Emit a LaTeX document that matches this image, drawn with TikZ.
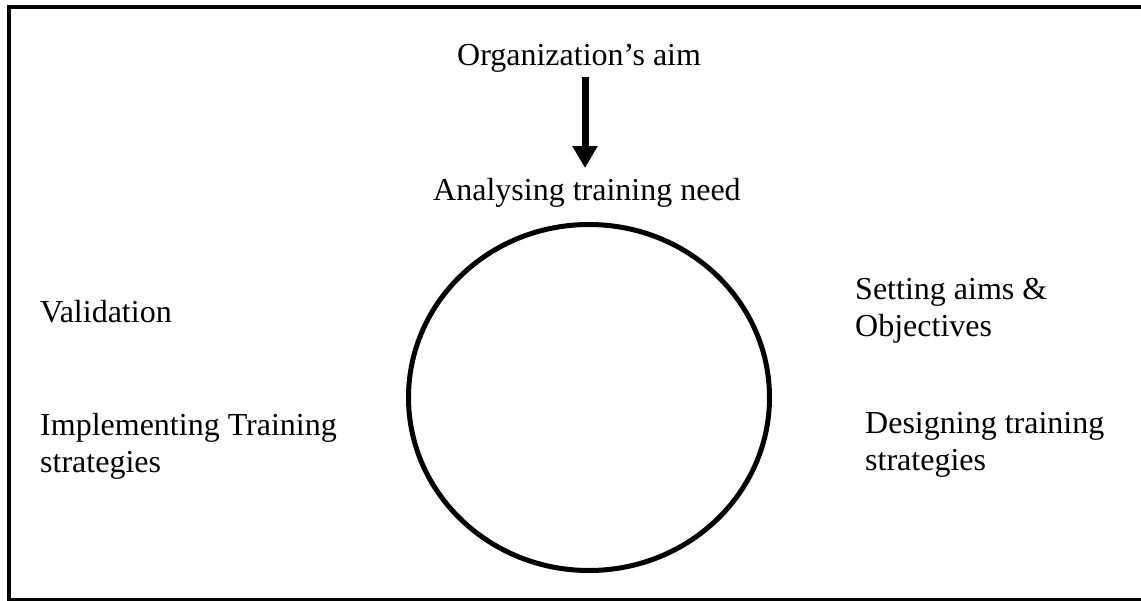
\documentclass[tikz,border=0pt]{standalone}
\usepackage{fontspec}
\setmainfont{Liberation Serif}
\usetikzlibrary{arrows.meta}
\begin{document}
\begin{tikzpicture}[x=1pt,y=-1pt,
  lbl/.style={anchor=base west,inner sep=0pt,align=left,font=\fontsize{32}{36.5}\selectfont},
  bigarrow/.style={line width=7pt,-{Triangle[width=24pt,length=22pt]}},
  ring/.style={line width=5pt}]
\useasboundingbox (0,0) rectangle (1141,600);
\fill[white] (0,0) rectangle (1141,600);
\draw[line width=4pt] (8.8,7) rectangle (1160,600);
\node[lbl] (org) at (457,65) {Organization’s aim};
\node[lbl] (ana) at (433,200) {Analysing training need};
\node[lbl] (val) at (40,322) {Validation};
\node[lbl] (imp) at (40,472) {Implementing Training\\strategies};
\node[lbl] (set) at (855,336) {Setting aims \&\\Objectives};
\node[lbl] (des) at (865,470) {Designing training\\strategies};
\draw[ring] (589,397.5) ellipse [x radius=180.5, y radius=173];
\coordinate (a1) at (585,77);
\coordinate (a2) at (585,168);
\draw[bigarrow] (a1) -- (a2);
\end{tikzpicture}
\end{document}
